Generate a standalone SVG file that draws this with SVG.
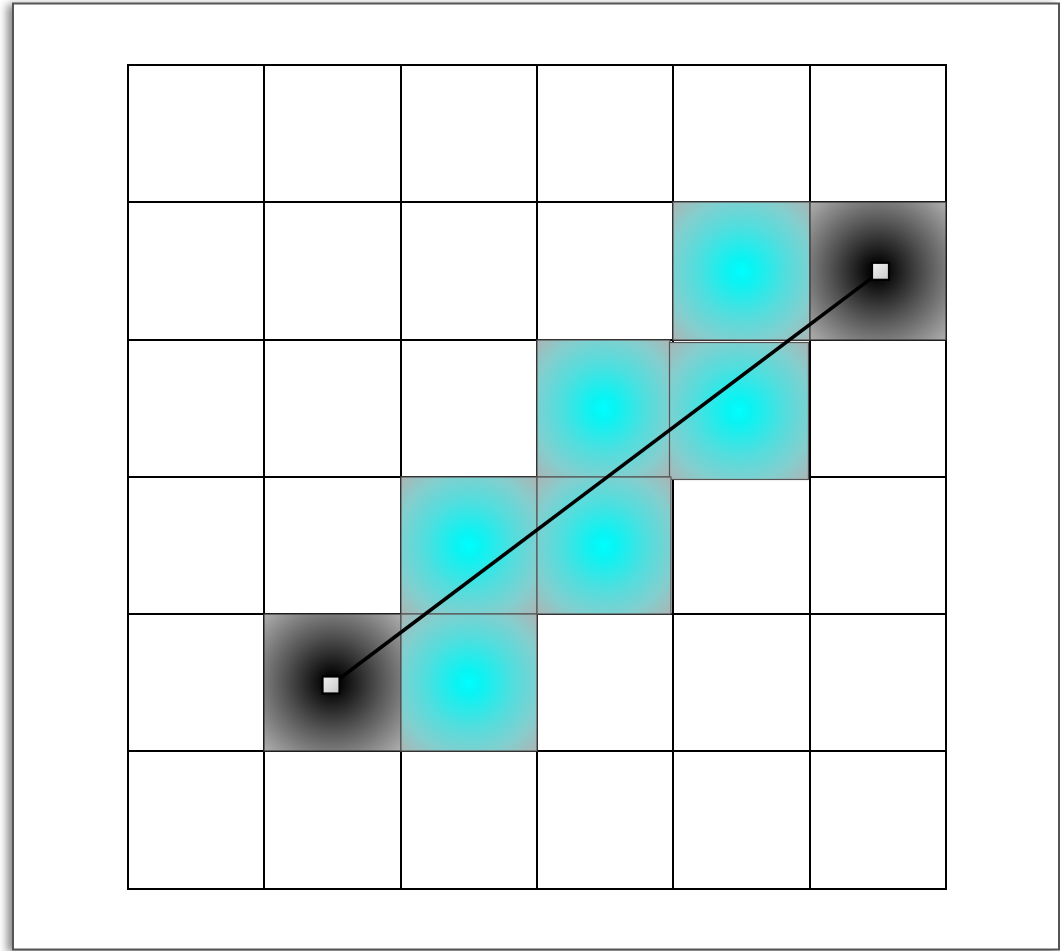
<svg xmlns="http://www.w3.org/2000/svg" width="1060" height="951" viewBox="0 0 1060 951">
<defs>
<filter id="sh" x="-5%" y="-5%" width="110%" height="110%">
<feDropShadow dx="-5" dy="2" stdDeviation="4" flood-color="#000" flood-opacity="0.45"/>
</filter>
<radialGradient id="cy" cx="0.5" cy="0.5" r="0.71">
<stop offset="0" stop-color="#00ffff"/>
<stop offset="0.12" stop-color="#08f4f4"/>
<stop offset="0.45" stop-color="#50dede"/>
<stop offset="0.75" stop-color="#84cece"/>
<stop offset="1" stop-color="#acb4b4"/>
</radialGradient>
<radialGradient id="bk" cx="0.5" cy="0.5" r="0.71">
<stop offset="0" stop-color="#000"/>
<stop offset="0.1" stop-color="#080808"/>
<stop offset="0.5" stop-color="#555"/>
<stop offset="1" stop-color="#b0b0b0"/>
</radialGradient>
<linearGradient id="pt" x1="0" y1="0" x2="1" y2="1">
<stop offset="0" stop-color="#f2f2f2"/>
<stop offset="1" stop-color="#c8c8c8"/>
</linearGradient>
<style>
.c{fill:url(#cy);stroke:#555;stroke-width:1.2}
.b{fill:url(#bk);stroke:#333;stroke-width:1.2}
.p{fill:url(#pt);stroke:#000;stroke-width:2.2}
</style>
</defs>
<rect x="13" y="3.5" width="1046" height="946" fill="#fff" stroke="#555" stroke-width="2" filter="url(#sh)"/>
<g id="grid">
<path d="M128 65H946V889H128Z M264 65V889 M401 65V889 M537 65V889 M673 65V889 M810 65V889 M128 202H946 M128 340H946 M128 477H946 M128 614H946 M128 751H946" fill="#fff" stroke="#000" stroke-width="2"/>
</g>
<g id="cells">
<rect id="c14" class="c" x="673" y="202" width="137" height="138"/>
<rect id="c15" class="b" x="810" y="202" width="136" height="138"/>
<rect id="c23" class="c" x="537" y="340" width="133" height="137"/>
<rect id="c24" class="c" x="669.5" y="342.5" width="139" height="137"/>
<rect id="c32" class="c" x="401" y="477" width="136" height="137"/>
<rect id="c33" class="c" x="537" y="477" width="134" height="137"/>
<rect id="c41" class="b" x="264" y="614" width="137" height="137"/>
<rect id="c42" class="c" x="401" y="614" width="136" height="137"/>
</g>
<g id="connectors">
<line x1="331" y1="685" x2="880.5" y2="271.3" stroke="#000" stroke-width="3.5"/>
</g>
<g id="p1"><rect class="p" x="322.5" y="676.5" width="17" height="17"/></g>
<g id="p2"><rect class="p" x="872" y="262.8" width="17" height="17"/></g>
</svg>
